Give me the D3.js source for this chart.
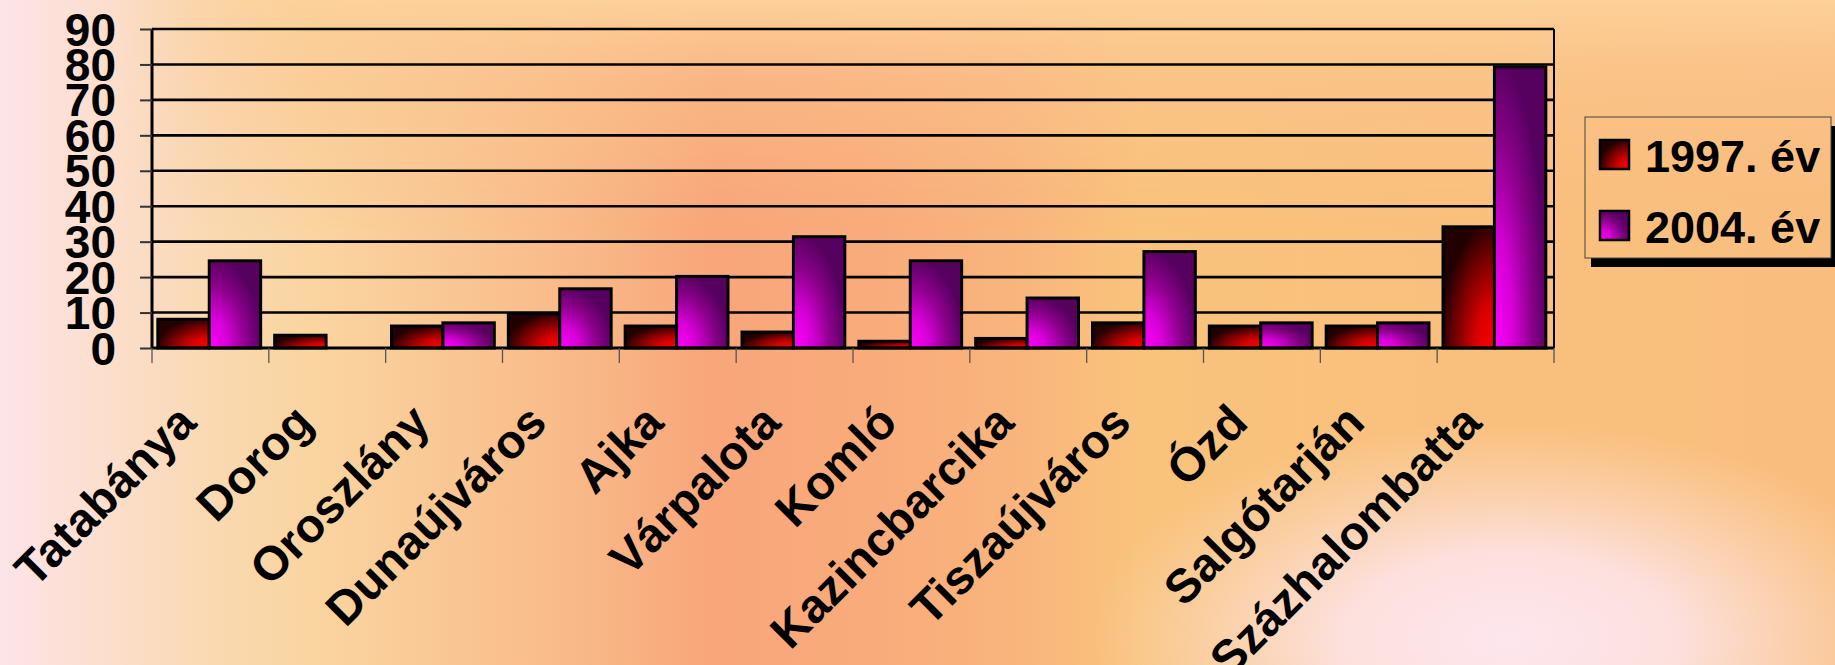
<!DOCTYPE html>
<html>
<head>
<meta charset="utf-8">
<script src="https://cdn.jsdelivr.net/npm/d3@7"></script>
<style>
  html, body { margin: 0; padding: 0; overflow: hidden; background: #fad5a0; }
  svg { display: block; }
  text { font-family: "Liberation Sans", Arial, sans-serif; font-weight: bold; fill: #000; }
</style>
</head>
<body>
<script>
// ---- data ----
const categories = ["Tatabánya", "Dorog", "Oroszlány", "Dunaújváros", "Ajka", "Várpalota",
  "Komló", "Kazincbarcika", "Tiszaújváros", "Ózd", "Salgótarján", "Százhalombatta"];
const seriesNames = ["1997. év", "2004. év"];
const values1997 = [8.1, 3.6, 6.2, 9.7, 6.2, 4.5, 1.9, 2.7, 7.1, 6.2, 6.2, 34.2];
const values2004 = [24.6, 0, 7.1, 16.7, 20.2, 31.4, 24.6, 14.1, 27.2, 7.1, 7.1, 79.3];
const yTicks = [0, 10, 20, 30, 40, 50, 60, 70, 80, 90];

// ---- layout ----
const W = 1835, H = 665;
const plot = { left: 152, right: 1554, top: 29, bottom: 348 };

const svg = d3.select("body").append("svg").attr("width", W).attr("height", H);
const defs = svg.append("defs");

// background gradients
const bgH = defs.append("linearGradient").attr("id", "bgH")
  .attr("gradientUnits", "userSpaceOnUse").attr("x1", 0).attr("y1", 0).attr("x2", W).attr("y2", 0);
[[0, "#fde4e8"], [0.05, "#fcdfd0"], [0.12, "#fad8b0"], [0.17, "#fad5a0"], [0.3, "#f9bc8a"],
 [0.39, "#f8a67a"], [0.47, "#f9ab7b"], [0.55, "#f9b47c"], [0.62, "#f9c37c"], [0.8, "#f9c07d"], [1, "#f9be7e"]]
  .forEach(([o, c]) => bgH.append("stop").attr("offset", o).attr("stop-color", c));

const bgTop = defs.append("linearGradient").attr("id", "bgTop")
  .attr("gradientUnits", "userSpaceOnUse").attr("x1", 0).attr("y1", 0).attr("x2", 0).attr("y2", 230);
bgTop.append("stop").attr("offset", 0).attr("stop-color", "#fcd19a").attr("stop-opacity", 1);
bgTop.append("stop").attr("offset", 0.35).attr("stop-color", "#fbc690").attr("stop-opacity", 0.5);
bgTop.append("stop").attr("offset", 1).attr("stop-color", "#fbc08a").attr("stop-opacity", 0);

const maskG = defs.append("linearGradient").attr("id", "maskG")
  .attr("gradientUnits", "userSpaceOnUse").attr("x1", 120).attr("y1", 0).attr("x2", 320).attr("y2", 0);
maskG.append("stop").attr("offset", 0).attr("stop-color", "#000");
maskG.append("stop").attr("offset", 1).attr("stop-color", "#fff");
defs.append("mask").attr("id", "topMask").append("rect")
  .attr("width", W).attr("height", H).attr("fill", "url(#maskG)");

const glow = defs.append("radialGradient").attr("id", "glow")
  .attr("gradientUnits", "userSpaceOnUse").attr("cx", 1510).attr("cy", 640).attr("r", 420)
  .attr("gradientTransform", "translate(1510,640) scale(1,0.52) translate(-1510,-640)");
glow.append("stop").attr("offset", 0).attr("stop-color", "#fde6ee").attr("stop-opacity", 1);
glow.append("stop").attr("offset", 0.4).attr("stop-color", "#fde4e8").attr("stop-opacity", 0.9);
glow.append("stop").attr("offset", 1).attr("stop-color", "#fce0d0").attr("stop-opacity", 0);

svg.append("rect").attr("width", W).attr("height", H).attr("fill", "url(#bgH)");
svg.append("rect").attr("width", W).attr("height", H).attr("fill", "url(#bgTop)").attr("mask", "url(#topMask)");
svg.append("rect").attr("width", W).attr("height", H).attr("fill", "url(#glow)");

// bar gradients
const gRed = defs.append("radialGradient").attr("id", "gRed")
  .attr("cx", 1).attr("cy", 1).attr("fx", 1).attr("fy", 1).attr("r", 1.05);
[[0, "#ff0000"], [0.35, "#d80000"], [0.7, "#7a0000"], [1, "#220000"]]
  .forEach(([o, c]) => gRed.append("stop").attr("offset", o).attr("stop-color", c));
const gPur = defs.append("radialGradient").attr("id", "gPur")
  .attr("cx", 0).attr("cy", 1).attr("fx", 0).attr("fy", 1).attr("r", 1.05);
[[0, "#ff00ff"], [0.35, "#d800d8"], [0.7, "#8a008a"], [1, "#560060"]]
  .forEach(([o, c]) => gPur.append("stop").attr("offset", o).attr("stop-color", c));
const fills = ["url(#gRed)", "url(#gPur)"];

// scales
const x0 = d3.scaleBand().domain(categories).range([plot.left, plot.right]).padding(0);
const bw = x0.bandwidth();
const x1 = d3.scaleBand().domain(seriesNames).range([bw * 0.05, bw * 0.93]).padding(0);
const y = d3.scaleLinear().domain([0, 90]).range([plot.bottom, plot.top]);

// gridlines
svg.append("g").selectAll("line").data(yTicks.filter(t => t > 0)).join("line")
  .attr("x1", plot.left).attr("x2", plot.right)
  .attr("y1", d => y(d)).attr("y2", d => y(d))
  .attr("stroke", "#000").attr("stroke-width", 2.6);

// right border
svg.append("line").attr("x1", plot.right).attr("x2", plot.right)
  .attr("y1", plot.top).attr("y2", plot.bottom).attr("stroke", "#000").attr("stroke-width", 2);

// bars
const rows = categories.map((c, i) => ({ c, v: [values1997[i], values2004[i]] }));
const grp = svg.append("g").selectAll("g").data(rows).join("g")
  .attr("transform", d => `translate(${x0(d.c)},0)`);
grp.selectAll("rect").data(d => d.v.map((v, k) => ({ k, v })).filter(e => e.v > 0)).join("rect")
  .attr("x", e => x1(seriesNames[e.k]))
  .attr("width", x1.bandwidth())
  .attr("y", e => y(e.v))
  .attr("height", e => y(0) - y(e.v))
  .attr("fill", e => fills[e.k])
  .attr("stroke", "#000").attr("stroke-width", 3);

// y axis
const yAxis = d3.axisLeft(y).tickValues(yTicks).tickSize(12).tickPadding(0);
const yg = svg.append("g").attr("transform", `translate(${plot.left},0)`).call(yAxis);
yg.select(".domain").attr("stroke", "#000").attr("stroke-width", 3).attr("d", `M0,${plot.top}V${plot.bottom}`);
yg.selectAll(".tick line").attr("stroke", "#333").attr("stroke-width", 2);
yg.selectAll(".tick text")
  .attr("x", -36).attr("dy", null)
  .attr("text-anchor", "end")
  .attr("dominant-baseline", "central")
  .style("font-size", "46px").style("font-weight", "bold")
  .style("font-family", '"Liberation Sans", Arial, sans-serif').attr("fill", "#000");

// x axis
const xAxis = d3.axisBottom(x0).tickSize(0).tickFormat("");
const xg = svg.append("g").attr("transform", `translate(0,${plot.bottom})`).call(xAxis);
xg.select(".domain").attr("stroke", "#000").attr("stroke-width", 3).attr("d", `M${plot.left},0H${plot.right}`);
// category separator ticks
const bounds = categories.map(c => x0(c)).concat([plot.right]);
svg.append("g").selectAll("line").data(bounds).join("line")
  .attr("x1", d => d).attr("x2", d => d)
  .attr("y1", plot.bottom).attr("y2", plot.bottom + 15)
  .attr("stroke", "#555").attr("stroke-width", 1.3);
// category labels
svg.append("g").selectAll("text").data(categories).join("text")
  .attr("text-anchor", "end")
  .attr("transform", d => `translate(${x0(d) + bw / 2 - 12},425) rotate(-45)`)
  .style("font-size", "47.5px")
  .text(d => d);

// legend
const lg = { x: 1585, y: 117, w: 246, h: 141 };
const leg = svg.append("g");
leg.append("rect").attr("x", lg.x + 6).attr("y", lg.y + lg.h).attr("width", lg.w).attr("height", 9).attr("fill", "#000");
leg.append("rect").attr("x", lg.x + lg.w).attr("y", lg.y + 9).attr("width", 6).attr("height", lg.h).attr("fill", "#000");
leg.append("rect").attr("x", lg.x).attr("y", lg.y).attr("width", lg.w).attr("height", lg.h)
  .attr("fill", "none").attr("stroke", "#444").attr("stroke-width", 1);
const legY = [155, 226];
seriesNames.forEach((s, k) => {
  leg.append("rect").attr("x", 1600).attr("y", legY[k] - 15).attr("width", 29).attr("height", 29)
    .attr("fill", fills[k]).attr("stroke", "#000").attr("stroke-width", 2.5);
  leg.append("text").attr("x", 1645).attr("y", legY[k] + 17).style("font-size", "45px").text(s);
});
</script>
</body>
</html>
